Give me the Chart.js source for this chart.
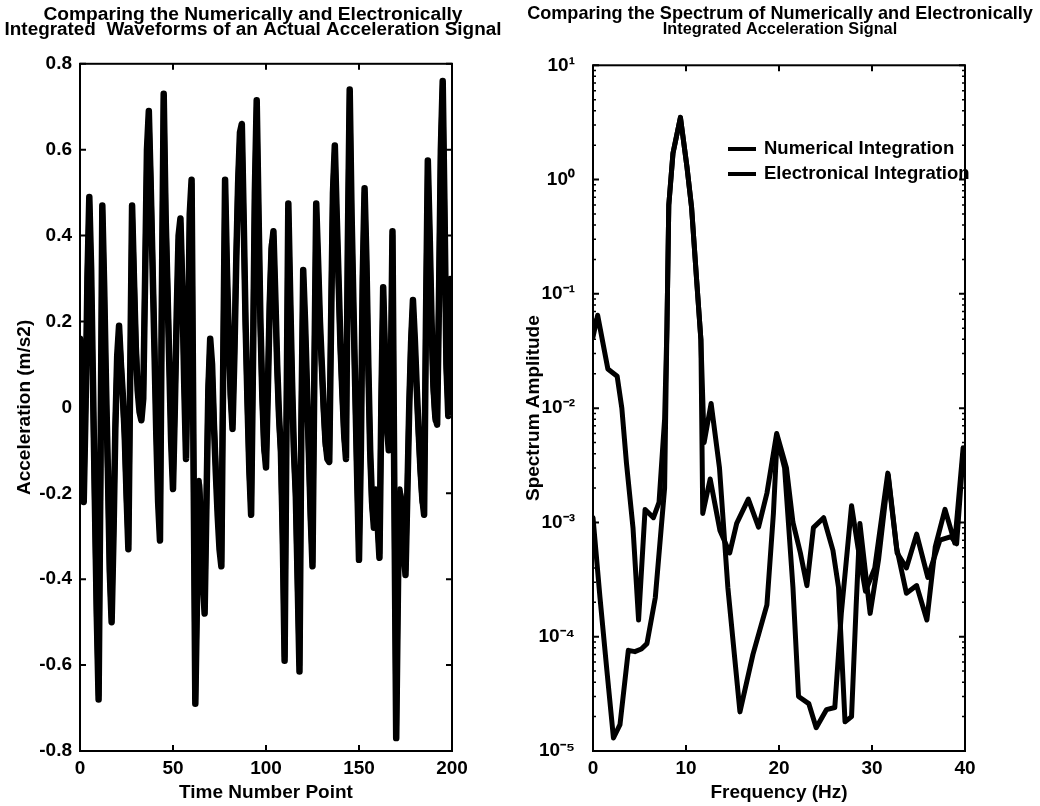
<!DOCTYPE html>
<html>
<head>
<meta charset="utf-8">
<script src="https://cdn.jsdelivr.net/npm/chart.js@4/dist/chart.umd.min.js"></script>
<style>
  html, body { margin: 0; padding: 0; background: #fff; }
  #wrap { position: relative; width: 1040px; height: 806px; overflow: hidden; background: #fff; }
  #c1 { position: absolute; left: 0; top: 0; }
  #c2 { position: absolute; left: 520px; top: 0; }
</style>
</head>
<body>
<div id="wrap">
  <canvas id="c1" width="506" height="806"></canvas>
  <canvas id="c2" width="520" height="806"></canvas>
</div>
<script>
// ---------------- Left panel: waveforms ----------------
const waveNumerical = [
  0.16, -0.02, -0.22, 0.00, 0.30, 0.49, 0.32, 0.05, -0.22, -0.48,
  -0.68, -0.15, 0.47, 0.28, 0.05, -0.15, -0.38, -0.50, -0.30, -0.05,
  0.12, 0.19, 0.10, 0.03, -0.06, -0.20, -0.33, 0.08, 0.47, 0.30,
  0.14, 0.04, -0.01, -0.03, 0.02, 0.30, 0.60, 0.69, 0.52, 0.33,
  0.14, -0.06, -0.22, -0.31, 0.25, 0.73, 0.45, 0.28, 0.10, -0.08,
  -0.19, 0.00, 0.22, 0.40, 0.44, 0.28, 0.06, -0.12, 0.12, 0.45,
  0.53, -0.10, -0.69, -0.42, -0.18, -0.26, -0.40, -0.48, -0.22, 0.04,
  0.16, 0.10, -0.04, -0.15, -0.25, -0.33, -0.37, 0.10, 0.53, 0.32,
  0.16, 0.03, -0.05, 0.12, 0.34, 0.52, 0.64, 0.66, 0.44, 0.20,
  0.02, -0.14, -0.25, 0.10, 0.50, 0.715, 0.45, 0.20, 0.03, -0.09,
  -0.14, 0.04, 0.24, 0.37, 0.41, 0.26, 0.10, -0.02, -0.10, -0.30,
  -0.59, -0.05, 0.475, 0.26, 0.06, -0.10, -0.20, -0.40, -0.615, -0.05,
  0.32, 0.20, 0.05, -0.10, -0.25, -0.37, 0.08, 0.475, 0.34, 0.20,
  0.10, 0.00, -0.08, -0.12, -0.127, 0.20, 0.50, 0.61, 0.45, 0.30,
  0.15, 0.04, -0.06, -0.12, 0.38, 0.74, 0.45, 0.24, 0.04, -0.16,
  -0.355, -0.10, 0.30, 0.51, 0.34, 0.10, -0.10, -0.22, -0.28, -0.20,
  -0.27, -0.35, 0.00, 0.28, 0.12, -0.04, -0.10, 0.02, 0.41, -0.20,
  -0.77, -0.40, -0.20, -0.22, -0.33, -0.39, -0.20, 0.00, 0.15, 0.25,
  0.16, 0.05, -0.05, -0.14, -0.21, -0.25, 0.20, 0.575, 0.40, 0.20,
  0.05, -0.02, -0.04, 0.25, 0.60, 0.76, 0.45, 0.10, -0.02, 0.28
];
const waveElectronical = [
  0.15, -0.04, -0.21, 0.02, 0.31, 0.48, 0.30, 0.03, -0.24, -0.49,
  -0.67, -0.17, 0.46, 0.27, 0.03, -0.16, -0.39, -0.49, -0.28, -0.04,
  0.11, 0.18, 0.11, 0.02, -0.07, -0.21, -0.32, 0.06, 0.46, 0.31,
  0.15, 0.05, 0.00, -0.02, 0.03, 0.31, 0.59, 0.68, 0.53, 0.34,
  0.15, -0.05, -0.21, -0.30, 0.27, 0.72, 0.46, 0.29, 0.11, -0.07,
  -0.18, 0.01, 0.21, 0.39, 0.43, 0.29, 0.07, -0.11, 0.13, 0.44,
  0.52, -0.12, -0.68, -0.41, -0.17, -0.25, -0.39, -0.47, -0.21, 0.05,
  0.15, 0.09, -0.03, -0.14, -0.24, -0.32, -0.36, 0.12, 0.52, 0.31,
  0.15, 0.02, -0.04, 0.13, 0.35, 0.53, 0.63, 0.65, 0.43, 0.19,
  0.01, -0.15, -0.24, 0.12, 0.51, 0.70, 0.44, 0.19, 0.02, -0.10,
  -0.13, 0.05, 0.25, 0.38, 0.40, 0.25, 0.09, -0.03, -0.11, -0.32,
  -0.58, -0.03, 0.46, 0.25, 0.05, -0.11, -0.21, -0.42, -0.60, -0.03,
  0.31, 0.19, 0.04, -0.11, -0.26, -0.36, 0.10, 0.46, 0.33, 0.19,
  0.09, -0.01, -0.09, -0.11, -0.12, 0.22, 0.51, 0.60, 0.44, 0.29,
  0.14, 0.03, -0.07, -0.11, 0.40, 0.73, 0.44, 0.23, 0.03, -0.17,
  -0.34, -0.08, 0.31, 0.50, 0.33, 0.09, -0.11, -0.23, -0.27, -0.19,
  -0.28, -0.34, 0.02, 0.27, 0.11, -0.05, -0.09, 0.04, 0.40, -0.22,
  -0.76, -0.38, -0.19, -0.23, -0.34, -0.38, -0.19, 0.01, 0.16, 0.24,
  0.15, 0.04, -0.06, -0.15, -0.22, -0.24, 0.22, 0.56, 0.39, 0.19,
  0.04, -0.03, -0.03, 0.27, 0.61, 0.75, 0.44, 0.09, -0.01, 0.30
];
const timePoints = waveNumerical.map((_, i) => i);
const waveXTicks = [0, 50, 100, 150, 200];
const waveYTicks = [-0.8, -0.6, -0.4, -0.2, 0, 0.2, 0.4, 0.6, 0.8];

// ---------------- Right panel: spectra ----------------
const freqNumerical = [0, 0.5, 1.6, 2.6, 3.1, 3.6, 4.3, 4.9, 5.6, 6.5,
  7.1, 7.7, 7.95, 8.15, 8.6, 9.4, 10.1, 10.6, 11.15, 11.6,
  11.95, 12.7, 13.6, 14.5, 15.8, 17.2, 18.7, 19.4, 19.8, 20.6,
  21.5, 22.1, 23.2, 24.0, 25.1, 26.0, 26.7, 27.8, 28.5, 29.3,
  30.3, 31.7, 32.7, 33.7, 34.8, 36.0, 37.3, 38.5, 39.1, 39.8];
const specNumerical = [0.042, 0.065, 0.022, 0.019, 0.010, 0.0033, 0.0009, 0.00014, 0.0013, 0.0011,
  0.0015, 0.008, 0.05, 0.6, 1.7, 3.5, 1.3, 0.57, 0.13, 0.04,
  0.005, 0.011, 0.003, 0.00027, 0.000022, 0.00007, 0.00019, 0.0012, 0.0055, 0.003,
  0.00027, 0.00003, 0.000026, 0.000016, 0.000023, 0.000024, 0.00016, 0.0014, 0.0006, 0.00025,
  0.0004, 0.0027, 0.00054, 0.0004, 0.00079, 0.00033, 0.0007, 0.00075, 0.00065, 0.004];
const freqElectronical = [0, 0.75, 1.5, 2.2, 2.9, 3.8, 4.5, 5.2, 5.8, 6.7,
  7.7, 7.95, 8.15, 8.6, 9.4, 10.1, 10.6, 11.15, 11.6, 11.8,
  12.6, 13.65, 14.7, 15.45, 16.7, 17.8, 18.7, 19.75, 20.8, 21.5,
  22.3, 23.0, 23.7, 24.8, 25.8, 26.4, 27.1, 27.8, 28.3, 28.7,
  29.8, 30.7, 31.75, 32.65, 33.7, 34.8, 35.9, 36.8, 37.85, 38.9, 39.8];
const specElectronical = [0.0011, 0.00022, 0.00005, 0.000013, 0.000017, 0.000076, 0.000074, 0.000078, 0.000087, 0.00022,
  0.002, 0.05, 0.6, 1.7, 3.5, 1.3, 0.57, 0.13, 0.04, 0.0012,
  0.0024, 0.00085, 0.00054, 0.00098, 0.0016, 0.00091, 0.0018, 0.006, 0.003, 0.001,
  0.00054, 0.00028, 0.0009, 0.0011, 0.00057, 0.00027, 0.000018, 0.00002, 0.00019, 0.00098,
  0.00016, 0.00047, 0.0026, 0.0006, 0.00024, 0.00028, 0.00014, 0.00061, 0.0013, 0.00066, 0.0045];
const specDecades = [1e-5, 1e-4, 1e-3, 1e-2, 1e-1, 1, 10];
const specDecadeLabels = ['10\u207B\u2075', '10\u207B\u2074', '10\u207B\u00B3', '10\u207B\u00B2', '10\u207B\u00B9', '10\u2070', '10\u00B9'];
const freqTicks = [0, 10, 20, 30, 40];
const seriesNames = ['Numerical Integration', 'Electronical Integration'];

// ---------------- shared styling ----------------
const FONT = 'Liberation Sans, Arial, Helvetica, sans-serif';
const INK = '#000';
Chart.defaults.font.family = FONT;
Chart.defaults.color = INK;

const boxPlugin = {
  id: 'matlabBox',
  afterDraw(chart, args, opts) {
    const { ctx, chartArea: a, scales } = chart;
    ctx.save();
    ctx.strokeStyle = INK;
    ctx.lineWidth = 2;
    ctx.strokeRect(a.left, a.top, a.right - a.left, a.bottom - a.top);
    const L = 6, l = 3;
    ctx.beginPath();
    scales.x.ticks.forEach(t => {
      const p = scales.x.getPixelForValue(t.value);
      ctx.moveTo(p, a.bottom); ctx.lineTo(p, a.bottom - L);
      ctx.moveTo(p, a.top); ctx.lineTo(p, a.top + L);
    });
    scales.y.ticks.forEach(t => {
      const p = scales.y.getPixelForValue(t.value);
      ctx.moveTo(a.left, p); ctx.lineTo(a.left + L, p);
      ctx.moveTo(a.right, p); ctx.lineTo(a.right - L, p);
    });
    ctx.stroke();
    if (opts && opts.minorLog) {
      ctx.lineWidth = 1.5;
      ctx.beginPath();
      for (let d = 0; d < specDecades.length - 1; d++) {
        for (let m = 2; m <= 9; m++) {
          const p = scales.y.getPixelForValue(specDecades[d] * m);
          ctx.moveTo(a.left, p); ctx.lineTo(a.left + l, p);
          ctx.moveTo(a.right, p); ctx.lineTo(a.right - l, p);
        }
      }
      ctx.stroke();
    }
    ctx.restore();
  }
};

const legendPlugin = {
  id: 'insideLegend',
  afterDraw(chart, args, opts) {
    if (!opts || !opts.show) return;
    const { ctx } = chart;
    ctx.save();
    ctx.font = 'bold 18.5px ' + FONT;
    ctx.fillStyle = INK;
    ctx.strokeStyle = INK;
    ctx.textBaseline = 'middle';
    chart.data.datasets.forEach((ds, i) => {
      const y = opts.y + i * opts.dy;
      ctx.lineWidth = 4;
      ctx.beginPath();
      ctx.moveTo(opts.x, y); ctx.lineTo(opts.x + 28, y);
      ctx.stroke();
      ctx.fillText(ds.label, opts.x + 36, y);
    });
    ctx.restore();
  }
};

function f(size, lh) { return { size: size, weight: 'bold', family: FONT, lineHeight: lh }; }
const axisFont = () => f(19, 1.2);

function spacerAxis(w) {
  return {
    type: 'linear', position: 'right', display: true,
    grid: { display: false, drawTicks: false }, border: { display: false },
    ticks: { display: false },
    afterFit: s => { s.width = w; }
  };
}

// ---------------- Chart 1 ----------------
new Chart(document.getElementById('c1'), {
  type: 'line',
  data: {
    datasets: [
      { label: seriesNames[0], data: timePoints.map((t, i) => ({ x: t, y: waveNumerical[i] })),
        borderColor: INK, borderWidth: 6.5, pointRadius: 0, tension: 0,
        borderJoinStyle: 'round', borderCapStyle: 'round' },
      { label: seriesNames[1], data: timePoints.map((t, i) => ({ x: t, y: waveElectronical[i] })),
        borderColor: INK, borderWidth: 5.5, pointRadius: 0, tension: 0,
        borderJoinStyle: 'round', borderCapStyle: 'round' }
    ]
  },
  options: {
    responsive: false, animation: false, devicePixelRatio: 1,
    layout: { padding: { left: 0, right: 0, top: 0, bottom: 2 } },
    plugins: {
      legend: { display: false },
      tooltip: { enabled: false },
      title: {
        display: true, text: 'Comparing the Numerically and Electronically',
        color: INK, font: f(19.2, 0.833), padding: { top: 6.3, bottom: 0 }
      },
      subtitle: {
        display: true, text: 'Integrated  Waveforms of an Actual Acceleration Signal',
        color: INK, font: f(18.9, 0.762), padding: { top: 0, bottom: 27.1 }
      },
      matlabBox: {}
    },
    scales: {
      x: {
        type: 'linear', min: 0, max: 200,
        afterBuildTicks: s => { s.ticks = waveXTicks.map(v => ({ value: v })); },
        afterFit: s => { s.height = 53; },
        grid: { display: false, drawTicks: false }, border: { display: false },
        ticks: { color: INK, font: axisFont(), padding: 6, maxRotation: 0, callback: v => String(v) },
        title: { display: true, text: 'Time Number Point', color: INK, font: axisFont(), padding: 0 }
      },
      y: {
        type: 'linear', min: -0.8, max: 0.8,
        afterBuildTicks: s => { s.ticks = waveYTicks.map(v => ({ value: v })); },
        afterFit: s => { s.width = 80; },
        grid: { display: false, drawTicks: false }, border: { display: false },
        ticks: { color: INK, font: axisFont(), padding: 8, callback: v => (Math.abs(v) < 1e-9 ? '0' : v.toFixed(1)) },
        title: { display: true, text: 'Acceleration (m/s2)', color: INK, font: axisFont(), padding: { top: 13.6, bottom: 0 } }
      },
      yR: spacerAxis(54)
    }
  },
  plugins: [boxPlugin]
});

// ---------------- Chart 2 ----------------
new Chart(document.getElementById('c2'), {
  type: 'line',
  data: {
    datasets: [
      { label: seriesNames[0], data: freqNumerical.map((fq, i) => ({ x: fq, y: specNumerical[i] })),
        borderColor: INK, borderWidth: 5, pointRadius: 0, tension: 0,
        borderJoinStyle: 'round', borderCapStyle: 'round' },
      { label: seriesNames[1], data: freqElectronical.map((fq, i) => ({ x: fq, y: specElectronical[i] })),
        borderColor: INK, borderWidth: 5, pointRadius: 0, tension: 0,
        borderJoinStyle: 'round', borderCapStyle: 'round' }
    ]
  },
  options: {
    responsive: false, animation: false, devicePixelRatio: 1,
    layout: { padding: { left: 0, right: 0, top: 0, bottom: 2 } },
    plugins: {
      legend: { display: false },
      tooltip: { enabled: false },
      title: {
        display: true, text: 'Comparing the Spectrum of Numerically and Electronically',
        color: INK, font: f(18.1, 0.884), padding: { top: 6.3, bottom: 0 }
      },
      subtitle: {
        display: true, text: 'Integrated Acceleration Signal',
        color: INK, font: f(16.3, 0.883), padding: { top: 0, bottom: 28.6 }
      },
      matlabBox: { minorLog: true },
      insideLegend: { show: true, x: 208, y: 149, dy: 25 }
    },
    scales: {
      x: {
        type: 'linear', min: 0, max: 40,
        afterBuildTicks: s => { s.ticks = freqTicks.map(v => ({ value: v })); },
        afterFit: s => { s.height = 53; },
        grid: { display: false, drawTicks: false }, border: { display: false },
        ticks: { color: INK, font: axisFont(), padding: 6, maxRotation: 0, callback: v => String(v) },
        title: { display: true, text: 'Frequency (Hz)', color: INK, font: axisFont(), padding: 0 }
      },
      y: {
        type: 'logarithmic', min: 1e-5, max: 10,
        afterBuildTicks: s => { s.ticks = specDecades.map(v => ({ value: v })); },
        afterFit: s => { s.width = 73; },
        grid: { display: false, drawTicks: false }, border: { display: false },
        ticks: { color: INK, font: axisFont(), padding: 18, callback: v => specDecadeLabels[specDecades.indexOf(v)] },
        title: { display: true, text: 'Spectrum Amplitude', color: INK, font: axisFont(), padding: { top: 2.6, bottom: 0 } }
      },
      yR: spacerAxis(75)
    }
  },
  plugins: [boxPlugin, legendPlugin]
});
</script>
</body>
</html>
